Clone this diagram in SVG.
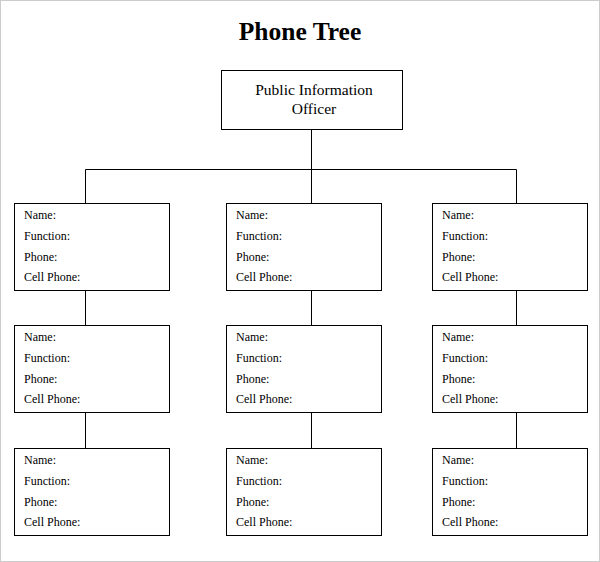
<svg xmlns="http://www.w3.org/2000/svg" width="600" height="562" viewBox="0 0 600 562">
<style>
.b{fill:#fff;stroke:#000;stroke-width:1}
.t{font-family:"Liberation Serif",serif;font-size:12px;fill:#000}
.c{stroke:#000;stroke-width:1;fill:none}
</style>
<defs>
<g id="card">
<rect class="b" x="0.5" y="0.5" width="155" height="87"/>
<text class="t" x="10" y="16">Name:</text>
<text class="t" x="10" y="37">Function:</text>
<text class="t" x="10" y="58">Phone:</text>
<text class="t" x="10" y="78">Cell Phone:</text>
</g>
</defs>
<rect x="0.5" y="0.5" width="599" height="561" fill="#fff" stroke="#ccc"/>
<text x="300" y="40" text-anchor="middle" style="font-family:'Liberation Serif',serif;font-size:25.5px;font-weight:bold">Phone Tree</text>
<g id="connectors">
<path class="c" d="M311.5 129V169.5M85.5 169.5H516.5M85.5 169.5V203M311.5 169.5V203M516.5 169.5V203M85.5 291V325M311.5 291V325M516.5 291V325M85.5 413V448M311.5 413V448M516.5 413V448"/>
</g>
<g id="pio">
<rect class="b" x="221.5" y="70.5" width="181" height="59"/>
<text x="314" y="95" text-anchor="middle" style="font-family:'Liberation Serif',serif;font-size:15.5px">Public Information</text>
<text x="314" y="114" text-anchor="middle" style="font-family:'Liberation Serif',serif;font-size:15.5px">Officer</text>
</g>
<g id="n11"><use href="#card" x="14" y="203"/></g>
<g id="n12"><use href="#card" x="226" y="203"/></g>
<g id="n13"><use href="#card" x="432" y="203"/></g>
<g id="n21"><use href="#card" x="14" y="325"/></g>
<g id="n22"><use href="#card" x="226" y="325"/></g>
<g id="n23"><use href="#card" x="432" y="325"/></g>
<g id="n31"><use href="#card" x="14" y="448"/></g>
<g id="n32"><use href="#card" x="226" y="448"/></g>
<g id="n33"><use href="#card" x="432" y="448"/></g>
</svg>
